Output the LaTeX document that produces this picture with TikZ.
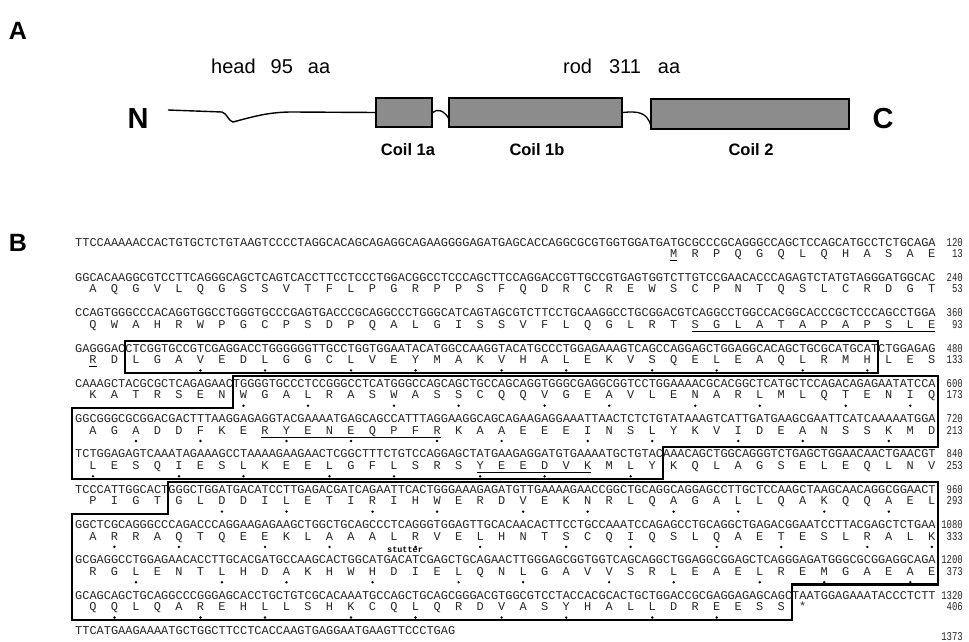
\documentclass[tikz,border=0pt]{standalone}
\usepackage{graphicx}
\usepackage{fontspec}
\newfontfamily\seqfont{Liberation Mono}
\newfontfamily\labfont{Liberation Sans}
\newcommand\aarow[4]{\foreach \a [count=\i from #3] in {#4} {\node[aa] (aa-#1-\i) at ({75+(3*\i-0.5)*7.17},{#2+11.5}) {\a};}}
\newcommand\dotrow[2]{\foreach \i in {#2} {\fill ({75+(3*\i-0.5)*7.17},{#1+20.5}) circle (1.35);}}
\newcommand\ulrow[3]{\draw[line width=0.8pt] ({75+(3*#2-1)*7.17},{#1+16.8}) -- ({75+(3*#3)*7.17},{#1+16.8});}
\newcommand\numtxt[1]{\scalebox{0.75}[1]{#1}}
\begin{document}
\begin{tikzpicture}[x=1pt,y=-1pt,
  nt/.style={font=\seqfont\fontsize{11.95}{12}\selectfont, inner sep=0pt, anchor=mid west, text=black!85},
  aa/.style={font=\seqfont\fontsize{11.95}{12}\selectfont, inner sep=0pt, anchor=mid, text=black!85},
  num/.style={font=\seqfont\fontsize{11.95}{12}\selectfont, inner sep=0pt, anchor=mid east, text=black!85},
  boxline/.style={line width=2.2pt, line join=miter},
  coilbox/.style={draw=black, line width=1.3pt, fill=black!45, inner sep=0pt},
  panellabel/.style={font=\labfont\bfseries\fontsize{25}{25}\selectfont, inner sep=0pt},
  termlabel/.style={font=\labfont\bfseries\fontsize{29}{29}\selectfont, inner sep=0pt},
  toplabel/.style={font=\labfont\fontsize{20}{20}\selectfont, inner sep=0pt, anchor=west},
  coillabel/.style={font=\labfont\bfseries\fontsize{16.5}{16.5}\selectfont, inner sep=0pt}]
\useasboundingbox[fill=white] (0,0) rectangle (969,642);

% ---------- Panel A ----------
\node[panellabel] (lblA) at (18,31) {A};
\node[toplabel] (head) at (211,66) {head\hspace{15pt}95\hspace{15pt}aa};
\node[toplabel] (rod) at (563,66) {rod\hspace{17pt}311\hspace{17pt}aa};
\node[termlabel] (N) at (138,119) {N};
\node[termlabel] (C) at (883,119) {C};
\node[coilbox, minimum width=56pt, minimum height=29pt] (c1a) at (404,112.5) {};
\node[coilbox, minimum width=173pt, minimum height=29pt] (c1b) at (535.5,112.5) {};
\node[coilbox, minimum width=198pt, minimum height=30pt] (c2) at (750,114) {};
\coordinate (nstart) at (168,110);
\coordinate (in1b) at (449,119);
\coordinate (in2) at (651,126);
\draw[line width=1.4pt] (nstart) -- (222,112) .. controls (227,113) and (228,121) .. (233,122)
   .. controls (252,117) and (268,112) .. (292,112) -- (c1a.west);
\draw[line width=1.3pt] (c1a.east) .. controls (437,108.5) and (444,110) .. (in1b);
\draw[line width=1.3pt] (c1b.east) .. controls (638,111) and (647,112) .. (in2);
\node[coillabel] (l1a) at (408,150) {Coil 1a};
\node[coillabel] (l1b) at (537,150) {Coil 1b};
\node[coillabel] (l2) at (751,150) {Coil 2};

% ---------- Panel B ----------
\node[panellabel] (lblB) at (18,243) {B};

% boxes
\draw[boxline] (125.19,340.9) rectangle (878.04,372.7);
\draw[boxline] (232.74,376.2) -- (938,376.2) -- (938,446.8) -- (662.94,446.8) -- (662.94,478.6)
   -- (72,478.6) -- (72,408) -- (232.74,408) -- cycle;
\draw[boxline] (168.21,482.1) -- (938,482.1) -- (938,584.5) -- (792,584.5) -- (792,619.8)
   -- (72,619.8) -- (72,513.9) -- (168.21,513.9) -- cycle;

% nucleotide lines
\node[nt] (nt1) at (75,244) {TTCCAAAAACCACTGTGCTCTGTAAGTCCCCTAGGCACAGCAGAGGCAGAAGGGGAGATGAGCACCAGGCGCGTGGTGGATGATGCGCCCGCAGGGCCAGCTCCAGCATGCCTCTGCAGA};
\node[nt] (nt2) at (75,279.3) {GGCACAAGGCGTCCTTCAGGGCAGCTCAGTCACCTTCCTCCCTGGACGGCCTCCCAGCTTCCAGGACCGTTGCCGTGAGTGGTCTTGTCCGAACACCCAGAGTCTATGTAGGGATGGCAC};
\node[nt] (nt3) at (75,314.6) {CCAGTGGGCCCACAGGTGGCCTGGGTGCCCGAGTGACCCGCAGGCCCTGGGCATCAGTAGCGTCTTCCTGCAAGGCCTGCGGACGTCAGGCCTGGCCACGGCACCCGCTCCCAGCCTGGA};
\node[nt] (nt4) at (75,349.9) {GAGGGACCTCGGTGCCGTCGAGGACCTGGGGGGTTGCCTGGTGGAATACATGGCCAAGGTACATGCCCTGGAGAAAGTCAGCCAGGAGCTGGAGGCACAGCTGCGCATGCATCTGGAGAG};
\node[nt] (nt5) at (75,385.2) {CAAAGCTACGCGCTCAGAGAACTGGGGTGCCCTCCGGGCCTCATGGGCCAGCAGCTGCCAGCAGGTGGGCGAGGCGGTCCTGGAAAACGCACGGCTCATGCTCCAGACAGAGAATATCCA};
\node[nt] (nt6) at (75,420.5) {GGCGGGCGCGGACGACTTTAAGGAGAGGTACGAAAATGAGCAGCCATTTAGGAAGGCAGCAGAAGAGGAAATTAACTCTCTGTATAAAGTCATTGATGAAGCGAATTCATCAAAAATGGA};
\node[nt] (nt7) at (75,455.8) {TCTGGAGAGTCAAATAGAAAGCCTAAAAGAAGAACTCGGCTTTCTGTCCAGGAGCTATGAAGAGGATGTGAAAATGCTGTACAAACAGCTGGCAGGGTCTGAGCTGGAACAACTGAACGT};
\node[nt] (nt8) at (75,491.1) {TCCCATTGGCACTGGGCTGGATGACATCCTTGAGACGATCAGAATTCACTGGGAAAGAGATGTTGAAAAGAACCGGCTGCAGGCAGGAGCCTTGCTCCAAGCTAAGCAACAGGCGGAACT};
\node[nt] (nt9) at (75,526.4) {GGCTCGCAGGGCCCAGACCCAGGAAGAGAAGCTGGCTGCAGCCCTCAGGGTGGAGTTGCACAACACTTCCTGCCAAATCCAGAGCCTGCAGGCTGAGACGGAATCCTTACGAGCTCTGAA};
\node[nt] (nt10) at (75,561.7) {GCGAGGCCTGGAGAACACCTTGCACGATGCCAAGCACTGGCATGACATCGAGCTGCAGAACTTGGGAGCGGTGGTCAGCAGGCTGGAGGCGGAGCTCAGGGAGATGGGCGCGGAGGCAGA};
\node[nt] (nt11) at (75,597) {GCAGCAGCTGCAGGCCCGGGAGCACCTGCTGTCGCACAAATGCCAGCTGCAGCGGGACGTGGCGTCCTACCACGCACTGCTGGACCGCGAGGAGAGCAGCTAATGGAGAAATACCCTCTT};
\node[nt] (nt12) at (75,632.3) {TTCATGAAGAAAATGCTGGCTTCCTCACCAAGTGAGGAATGAAGTTCCCTGAG};

% amino acid lines
\aarow{1}{244}{28}{M,R,P,Q,G,Q,L,Q,H,A,S,A,E}
\aarow{2}{279.3}{1}{A,Q,G,V,L,Q,G,S,S,V,T,F,L,P,G,R,P,P,S,F,Q,D,R,C,R,E,W,S,C,P,N,T,Q,S,L,C,R,D,G,T}
\aarow{3}{314.6}{1}{Q,W,A,H,R,W,P,G,C,P,S,D,P,Q,A,L,G,I,S,S,V,F,L,Q,G,L,R,T,S,G,L,A,T,A,P,A,P,S,L,E}
\aarow{4}{349.9}{1}{R,D,L,G,A,V,E,D,L,G,G,C,L,V,E,Y,M,A,K,V,H,A,L,E,K,V,S,Q,E,L,E,A,Q,L,R,M,H,L,E,S}
\aarow{5}{385.2}{1}{K,A,T,R,S,E,N,W,G,A,L,R,A,S,W,A,S,S,C,Q,Q,V,G,E,A,V,L,E,N,A,R,L,M,L,Q,T,E,N,I,Q}
\aarow{6}{420.5}{1}{A,G,A,D,D,F,K,E,R,Y,E,N,E,Q,P,F,R,K,A,A,E,E,E,I,N,S,L,Y,K,V,I,D,E,A,N,S,S,K,M,D}
\aarow{7}{455.8}{1}{L,E,S,Q,I,E,S,L,K,E,E,L,G,F,L,S,R,S,Y,E,E,D,V,K,M,L,Y,K,Q,L,A,G,S,E,L,E,Q,L,N,V}
\aarow{8}{491.1}{1}{P,I,G,T,G,L,D,D,I,L,E,T,I,R,I,H,W,E,R,D,V,E,K,N,R,L,Q,A,G,A,L,L,Q,A,K,Q,Q,A,E,L}
\aarow{9}{526.4}{1}{A,R,R,A,Q,T,Q,E,E,K,L,A,A,A,L,R,V,E,L,H,N,T,S,C,Q,I,Q,S,L,Q,A,E,T,E,S,L,R,A,L,K}
\aarow{10}{561.7}{1}{R,G,L,E,N,T,L,H,D,A,K,H,W,H,D,I,E,L,Q,N,L,G,A,V,V,S,R,L,E,A,E,L,R,E,M,G,A,E,A,E}
\aarow{11}{597}{1}{Q,Q,L,Q,A,R,E,H,L,L,S,H,K,C,Q,L,Q,R,D,V,A,S,Y,H,A,L,L,D,R,E,E,S,S,*}

% heptad dots
\dotrow{349.9}{6,9,13,16,20,23,27,30,34,37}
\dotrow{385.2}{8,11,15,18,22,25,29,32,36,39}
\dotrow{420.5}{3,6,10,13,17,20,24,27,31,34,38}
\dotrow{455.8}{1,5,8,12,15,19,22,26}
\dotrow{491.1}{7,10,14,17,21,24,28,31,35,38}
\dotrow{526.4}{2,5,9,12,16,19,23,26,30,33,37,40}
\dotrow{561.7}{3,7,10,14,18,21,25,28,32,35,39}
\dotrow{597}{2,6,9,13,16,20,23,27,30}

% underlined motifs
\ulrow{244}{28}{28}
\ulrow{314.6}{29}{40}
\ulrow{349.9}{1}{1}
\ulrow{420.5}{9}{17}
\ulrow{455.8}{19}{24}

\node[font=\seqfont\bfseries\fontsize{8.5}{8.5}\selectfont, inner sep=0pt, anchor=base] (stut) at (405,552.3) {stutter};

% numbers
\node[num] (n1) at (963,244) {\numtxt{120}};
\node[num] (n2) at (963,279.3) {\numtxt{240}};
\node[num] (n3) at (963,314.6) {\numtxt{360}};
\node[num] (n4) at (963,349.9) {\numtxt{480}};
\node[num] (n5) at (963,385.2) {\numtxt{600}};
\node[num] (n6) at (963,420.5) {\numtxt{720}};
\node[num] (n7) at (963,455.8) {\numtxt{840}};
\node[num] (n8) at (963,491.1) {\numtxt{960}};
\node[num] (n9) at (963,526.4) {\numtxt{1080}};
\node[num] (n10) at (963,561.7) {\numtxt{1200}};
\node[num] (n11) at (963,597) {\numtxt{1320}};
\node[num] (n12) at (963,638.5) {\numtxt{1373}};
\node[num] (m1) at (963,255.5) {\numtxt{13}};
\node[num] (m2) at (963,290.8) {\numtxt{53}};
\node[num] (m3) at (963,326.1) {\numtxt{93}};
\node[num] (m4) at (963,361.4) {\numtxt{133}};
\node[num] (m5) at (963,396.7) {\numtxt{173}};
\node[num] (m6) at (963,432) {\numtxt{213}};
\node[num] (m7) at (963,467.3) {\numtxt{253}};
\node[num] (m8) at (963,502.6) {\numtxt{293}};
\node[num] (m9) at (963,537.9) {\numtxt{333}};
\node[num] (m10) at (963,573.2) {\numtxt{373}};
\node[num] (m11) at (963,608.5) {\numtxt{406}};
\end{tikzpicture}
\end{document}
